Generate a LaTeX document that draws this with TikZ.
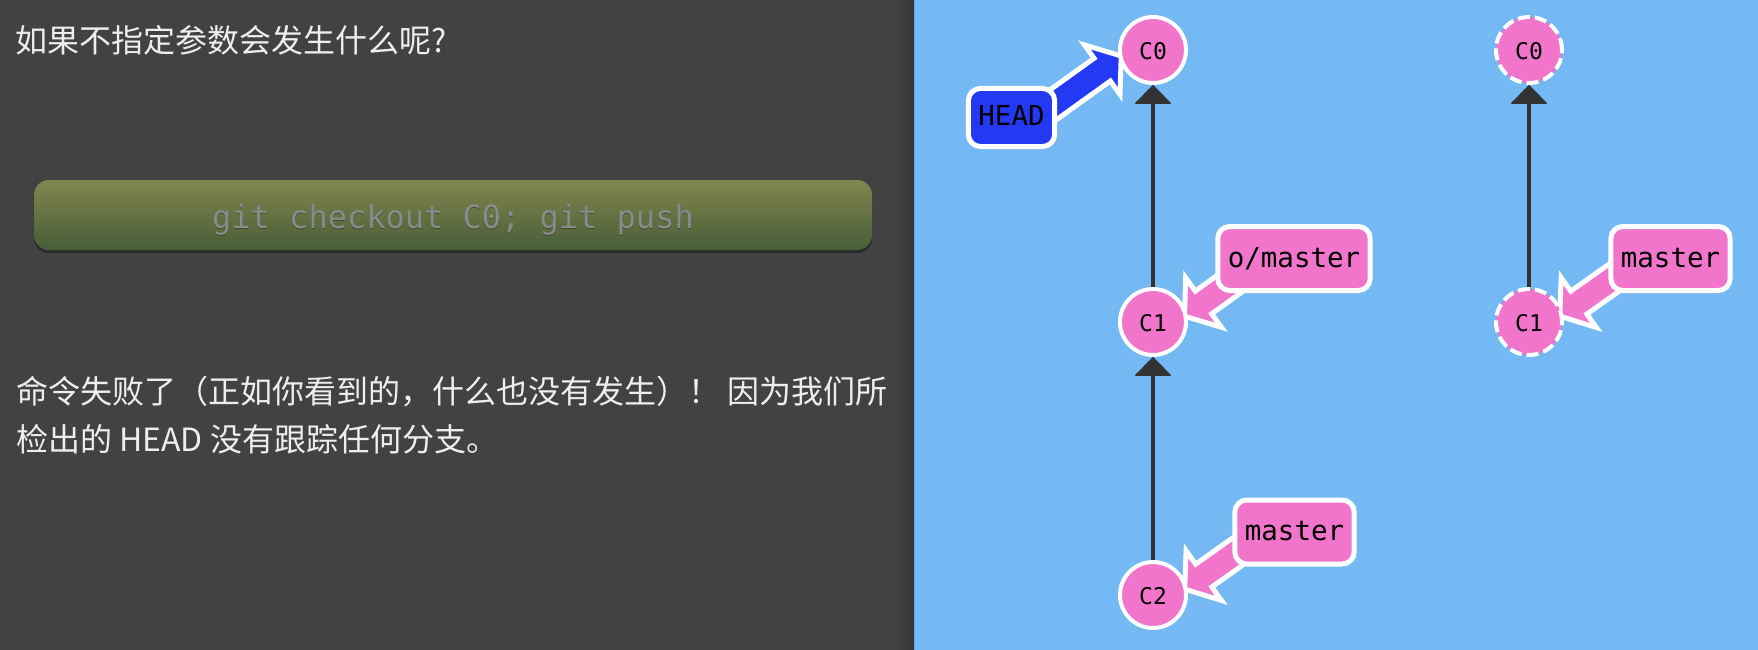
\documentclass[tikz,border=0pt]{standalone}
\usepackage{fontspec}
\newfontfamily\cjkf{Noto Sans CJK SC}
\newfontfamily\monof{DejaVu Sans Mono}
\usetikzlibrary{arrows.meta,calc}
\pgfdeclarelayer{bglayer}
\pgfdeclarelayer{arrowlayer}
\pgfsetlayers{bglayer,arrowlayer,main}
\definecolor{darkpanel}{HTML}{424242}
\definecolor{panelshadow}{HTML}{333333}
\definecolor{bluebg}{HTML}{74B9F4}
\definecolor{pinkc}{HTML}{F075CB}
\definecolor{headblue}{HTML}{2339F4}
\definecolor{edgecol}{HTML}{333333}
\definecolor{textcol}{HTML}{EEEEEE}
\definecolor{btntop}{HTML}{82864F}
\definecolor{btnbot}{HTML}{475E37}
\definecolor{btntext}{HTML}{8A8A8A}
\definecolor{btnshadow}{HTML}{2C2C2C}
% fat branch arrow from coordinate #1 (inside the label) to tip coordinate #2
\newcommand\fatarrow[3]{%
  \path let \p1=($(#2)-(#1)$) in \pgfextra{%
    \pgfmathsetmacro\fatang{atan2(\y1,\x1)}\global\let\fatang\fatang
    \pgfmathsetmacro\fatlen{veclen(\x1,\y1)}\global\let\fatlen\fatlen};
  \begin{scope}[shift={(#1)}, rotate=\fatang]
    \filldraw[fatbody, fill=#3] (0,-14) -- ({\fatlen-26.5},-14) -- ({\fatlen-26.5},-30.5)
      -- ({\fatlen-3.1},0) -- ({\fatlen-26.5},30.5) -- ({\fatlen-26.5},14) -- (0,14) -- cycle;
  \end{scope}}
\begin{document}
\begin{tikzpicture}[x=1pt,y=-1pt,
  commit/.style={circle, fill=pinkc, draw=white, line width=4pt, minimum size=66pt,
    inner sep=0pt, font=\monof\fontsize{23pt}{25pt}\selectfont, text height=19pt, text depth=0pt},
  ghost/.style={commit, dash pattern=on 12pt off 5pt},
  brlabel/.style={rectangle, rounded corners=12pt, draw=white, line width=5pt,
    inner xsep=10pt, inner ysep=0pt, minimum height=64pt,
    font=\monof\fontsize{27.5pt}{30pt}\selectfont, text height=17pt, text depth=0pt, text=black},
  pinklabel/.style={brlabel, fill=pinkc},
  headlabel/.style={brlabel, fill=headblue, minimum height=58pt},
  commitedge/.style={draw=edgecol, line width=4pt, -{Triangle[width=37pt,length=19pt,line width=1pt,round]}},
  fatbody/.style={draw=white, line width=5pt, line join=miter, miter limit=4},
  cjktext/.style={anchor=base west, inner sep=0pt, text=textcol, font=\cjkf\fontsize{32pt}{40pt}\selectfont},
  cmdbtn/.style={rectangle, rounded corners=15pt, top color=btntop, bottom color=btnbot,
    minimum width=838pt, minimum height=70pt, inner sep=0pt},
  cmdtext/.style={inner sep=0pt, text=btntext, font=\monof\fontsize{32pt}{34pt}\selectfont,
    text height=26pt, text depth=0pt}
]
\useasboundingbox (0,0) rectangle (1758,650);
\begin{pgfonlayer}{bglayer}
  \fill[darkpanel] (0,0) rectangle (914,650);
  \fill[bluebg] (914,0) rectangle (1758,650);
  \shade[left color=darkpanel, right color=panelshadow] (898,0) rectangle (914,650);
\end{pgfonlayer}

% left panel texts
\node[cjktext] (title) at (15,53) {如果不指定参数会发生什么呢?};
\node[cmdbtn] (cmdbox) at (453,215) {};
\begin{pgfonlayer}{bglayer}
  \fill[btnshadow, rounded corners=15pt] ($(cmdbox.south west)+(0,3)$) rectangle ($(cmdbox.north east)+(0,3)$);
\end{pgfonlayer}
\node[cmdtext, text=black, opacity=0.3] (cmdshadow) at ($(cmdbox.center)+(0,1.5)$) {git checkout C0; git push};
\node[cmdtext] (cmd) at (cmdbox.center) {git checkout C0; git push};
\node[cjktext] (para1) at (16,403) {命令失败了（正如你看到的，什么也没有发生）！ 因为我们所};
\node[cjktext] (para2) at (16,451) {检出的 HEAD 没有跟踪任何分支。};

% left tree
\node[commit] (c0) at (1153,50) {C0};
\node[commit] (c1) at (1153,322) {C1};
\node[commit] (c2) at (1153,595) {C2};
\draw[commitedge] (c1) -- (c0);
\draw[commitedge] (c2) -- (c1);
\node[headlabel] (headlbl) at (1011.5,117.5) {HEAD};
\node[pinklabel] (omaster) at (1294,258.5) {o/master};
\node[pinklabel] (lmaster) at (1294.5,532) {master};

% right tree
\node[ghost] (r0) at (1529,50) {C0};
\node[ghost] (r1) at (1529,322) {C1};
\draw[commitedge] (r1) -- (r0);
\node[pinklabel] (rmaster) at (1670.5,258.5) {master};

% branch arrows
\coordinate (hs) at ($(headlbl.center)+(24,0)$);
\coordinate (ht) at ($(c0.center)+(-29,4)$);
\coordinate (os) at ($(omaster.center)+(-42,9)$);
\coordinate (ot) at ($(c1.center)+(29,-4)$);
\coordinate (ls) at ($(lmaster.center)+(-42,9)$);
\coordinate (lt) at ($(c2.center)+(29,-4)$);
\coordinate (rs) at ($(rmaster.center)+(-42,9)$);
\coordinate (rt) at ($(r1.center)+(28,-4)$);
\begin{pgfonlayer}{arrowlayer}
  \fatarrow{hs}{ht}{headblue}
  \fatarrow{os}{ot}{pinkc}
  \fatarrow{ls}{lt}{pinkc}
  \fatarrow{rs}{rt}{pinkc}
\end{pgfonlayer}
\end{tikzpicture}
\end{document}
